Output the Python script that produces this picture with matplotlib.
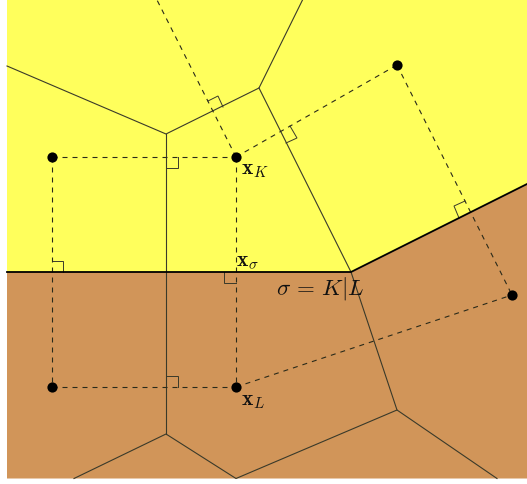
import matplotlib
matplotlib.use("Agg")
import matplotlib.pyplot as plt
from matplotlib.patches import Polygon

plt.rcParams['mathtext.fontset'] = 'cm'
plt.rcParams['font.family'] = ['DejaVu Serif']

YELLOW = '#ffff5c'
BROWN = '#d19559'

upper_region = [(7, -2), (527, -2), (527, 184), (351, 272), (7, 272)]
lower_region = [(7, 272), (351, 272), (527, 184), (527, 478.5), (7, 478.5)]
interface = [(7, 272), (351, 272), (527, 184)]
mesh_edges = [
    [(7, 66), (166, 134), (259, 88), (303, -1)],
    [(166, 134), (166, 434)],
    [(259, 88), (351, 272), (397, 410)],
    [(74, 478.5), (166, 434), (236, 478.5), (397, 410), (497, 478.5)],
]
dashed_links = [
    [(52, 157), (236, 157)],
    [(52, 157), (52, 387)],
    [(52, 387), (236, 387)],
    [(236, 157), (236, 387)],
    [(236, 157), (397, 65)],
    [(236, 157), (156, -2)],
    [(397, 65), (512, 295)],
    [(236, 387), (512, 295)],
]
right_angles = [
    [(166, 168), (178, 168), (178, 157)],
    [(166, 376), (178, 376), (178, 387)],
    [(52, 261), (63, 261), (63, 272)],
    [(224, 272), (224, 283), (236, 283)],
    [(208, 101), (218, 96), (223, 107)],
    [(290, 126), (297, 138), (286, 143)],
    [(459, 218), (454, 206), (465, 201)],
]
points_x = [52, 236, 397, 52, 236, 512]
points_y = [157, 157, 65, 387, 387, 295]
labels = [
    (241, 168.5, r'$\mathbf{x}_K$', 15.5),
    (236, 260.5, r'$\mathbf{x}_\sigma$', 15.5),
    (276, 288, r'$\sigma\,=\,K|L$', 16.5),
    (241, 399.5, r'$\mathbf{x}_L$', 15.5),
]

fig = plt.figure(figsize=(5.27, 4.85), dpi=100)
ax = fig.add_axes([0, 0, 1, 1])
ax.set_xlim(0, 527)
ax.set_ylim(484, -1)
ax.axis('off')

ax.add_patch(Polygon(upper_region, closed=True, fc=YELLOW, ec='none', zorder=1))
ax.add_patch(Polygon(lower_region, closed=True, fc=BROWN, ec='none', zorder=1))


def draw(path, **kw):
    ax.plot([p[0] for p in path], [p[1] for p in path], **kw)


for e in mesh_edges:
    draw(e, color='#3a3a2a', lw=0.8, zorder=2, solid_joinstyle='miter')
for a in right_angles:
    draw(a, color='#3a3a2a', lw=0.7, zorder=2, solid_joinstyle='miter')
for d in dashed_links:
    draw(d, color='#2a2a1a', lw=0.8, ls=(0, (4.5, 4.5)), zorder=3)
draw(interface, color='black', lw=1.3, zorder=4)
ax.scatter(points_x, points_y, s=54, color='black', linewidths=0, zorder=5)
for x, y, s, fs in labels:
    ax.text(x, y, s, fontsize=fs, color='#111111', ha='left', va='center', zorder=6)

fig.savefig('out.png', dpi=100, facecolor='white')
